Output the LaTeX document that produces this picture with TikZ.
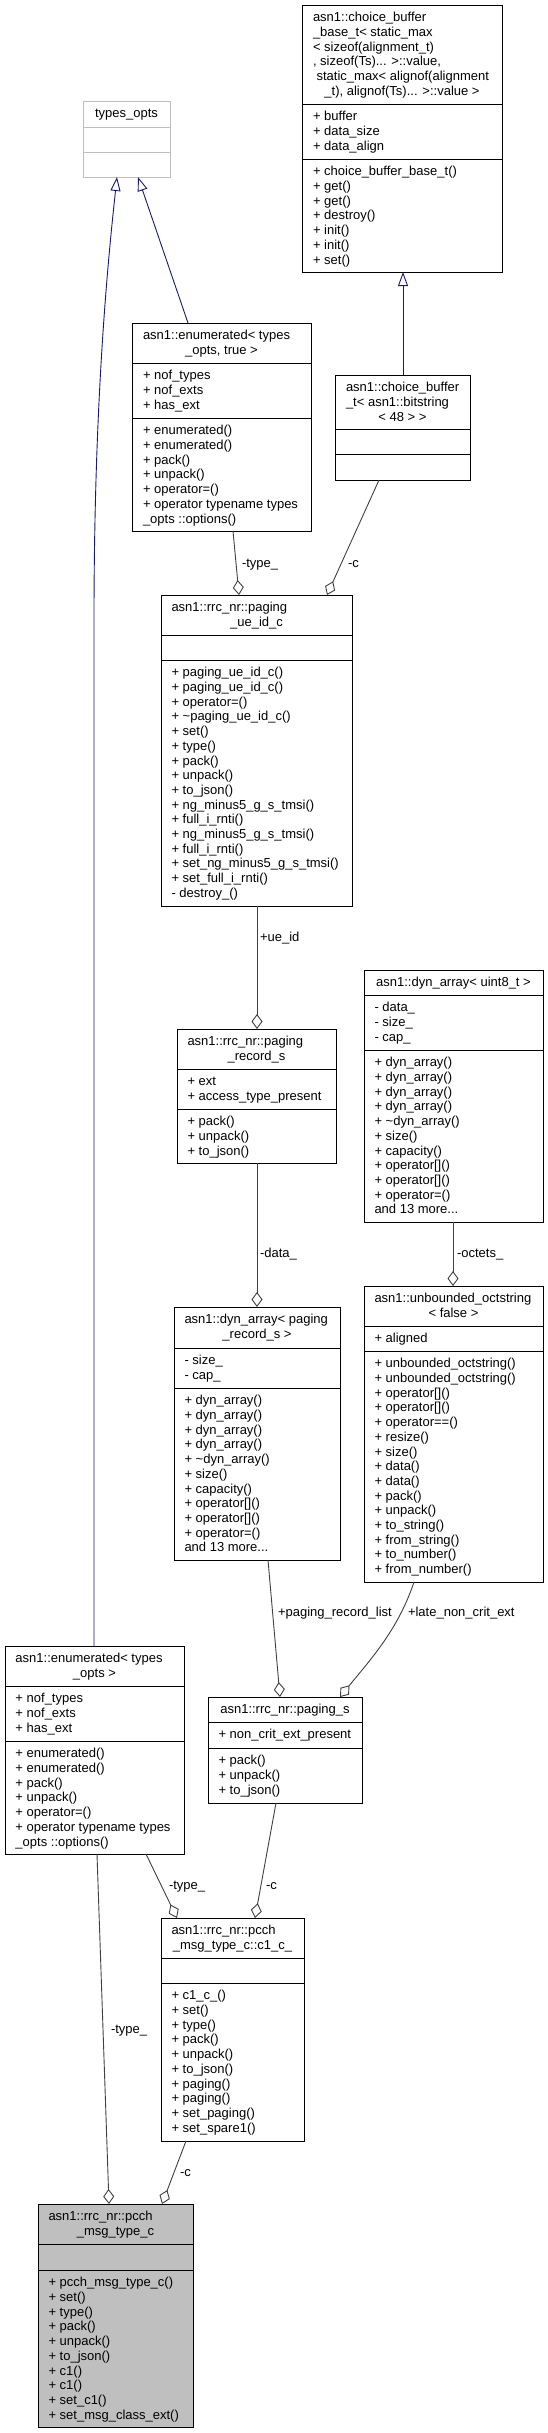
\documentclass[tikz,border=0pt]{standalone}
\usepackage{fontspec}
\setmainfont{Liberation Sans}
\usetikzlibrary{arrows.meta}
\definecolor{grey75}{HTML}{BFBFBF}
\definecolor{edgegray}{HTML}{404040}
\definecolor{inhblue}{HTML}{191970}
\newcommand\lbl{\fontsize{13pt}{14.7pt}\selectfont}
\newcommand\ttab[1]{\begin{tabular}[t]{@{}l@{}}#1\end{tabular}}
% #1 style, #2 name, #3 x, #4 y, #5 width, #6 height, #7 sep1, #8 sep2, #9 sep colour
\newcommand\classbox[9]{%
  \node[#1, minimum width=#5pt, minimum height=#6pt] (#2) at (#3,#4) {};
  \draw[draw=#9, line width=1pt] (#2.west |- 0,#7) -- (#2.east |- 0,#7);
  \draw[draw=#9, line width=1pt] (#2.west |- 0,#8) -- (#2.east |- 0,#8);
}
\tikzset{
  cls/.style={draw=black, line width=1pt, fill=white, inner sep=0pt, outer sep=0pt, anchor=north west},
  undoc/.style={cls, draw=grey75},
  rootcls/.style={cls, fill=grey75},
  txt/.style={inner sep=0pt, outer sep=0pt, anchor=base west, font=\lbl},
  ctxt/.style={inner sep=0pt, outer sep=0pt, anchor=base, font=\lbl},
  elab/.style={inner sep=0pt, outer sep=0pt, anchor=base west, font=\lbl},
  agg/.style={draw=edgegray, line width=0.9pt, -{Diamond[fill=white, length=15pt, width=11pt]}},
  inh/.style={draw=inhblue, line width=0.9pt, -{Triangle[fill=white, length=14pt, width=10pt]}},
}
\begin{document}
\begin{tikzpicture}[x=1pt, y=-1pt]
\useasboundingbox (0,0) rectangle (547,2433);

% ---------- boxes ----------
\classbox{undoc}{types}{83}{101}{87}{76}{127}{152}{grey75}
\node[ctxt] (typesH) at (126.5,117.8) {types\_opts};

\classbox{cls}{cbb}{302}{5}{200}{267}{104}{159}{black}
\node[txt] (cbbH) at (313,21.8) {\ttab{asn1::choice\_buffer\\ \_base\_t< static\_max\\ < sizeof(alignment\_t)\\ , sizeof(Ts)... >::value,\\ \hspace{3.6pt}static\_max< alignof(alignment}};
\node[ctxt] (cbbH2) at (402,95.3) {\_t), alignof(Ts)... >::value >};
\node[txt] (cbbA) at (313,120.8) {\ttab{+ buffer\\ + data\_size\\ + data\_align}};
\node[txt] (cbbM) at (313,175.8) {\ttab{+ choice\_buffer\_base\_t()\\ + get()\\ + get()\\ + destroy()\\ + init()\\ + init()\\ + set()}};

\classbox{cls}{enumT}{132}{323}{179}{208}{363}{418}{black}
\node[txt] (enumTH) at (143,339.8) {asn1::enumerated< types};
\node[ctxt] (enumTH2) at (221.5,354.5) {\_opts, true >};
\node[txt] (enumTA) at (143,379.8) {\ttab{+ nof\_types\\ + nof\_exts\\ + has\_ext}};
\node[txt] (enumTM) at (143,434.8) {\ttab{+ enumerated()\\ + enumerated()\\ + pack()\\ + unpack()\\ + operator=()\\ + operator typename types\\ \_opts ::options()}};

\classbox{cls}{cbt}{335}{375}{135}{105}{429}{454}{black}
\node[txt] (cbtH) at (346,391.8) {\ttab{asn1::choice\_buffer\\ \_t< asn1::bitstring}};
\node[ctxt] (cbtH2) at (402.5,421.2) {< 48 > >};

\classbox{cls}{pueid}{161}{595}{191}{311}{635}{660}{black}
\node[txt] (pueidH) at (171.5,611.8) {asn1::rrc\_nr::paging};
\node[ctxt] (pueidH2) at (256.5,626.5) {\_ue\_id\_c};
\node[txt] (pueidM) at (171.5,676.8) {\ttab{+ paging\_ue\_id\_c()\\ + paging\_ue\_id\_c()\\ + operator=()\\ + \textasciitilde paging\_ue\_id\_c()\\ + set()\\ + type()\\ + pack()\\ + unpack()\\ + to\_json()\\ + ng\_minus5\_g\_s\_tmsi()\\ + full\_i\_rnti()\\ + ng\_minus5\_g\_s\_tmsi()\\ + full\_i\_rnti()\\ + set\_ng\_minus5\_g\_s\_tmsi()\\ + set\_full\_i\_rnti()\\ - destroy\_()}};

\classbox{cls}{prs}{177}{1029}{159}{134}{1069}{1109}{black}
\node[txt] (prsH) at (187.5,1045.8) {asn1::rrc\_nr::paging};
\node[ctxt] (prsH2) at (256.5,1060.5) {\_record\_s};
\node[txt] (prsA) at (187.5,1085.8) {\ttab{+ ext\\ + access\_type\_present}};
\node[txt] (prsM) at (187.5,1125.8) {\ttab{+ pack()\\ + unpack()\\ + to\_json()}};

\classbox{cls}{dynu}{364}{970}{179}{252}{995}{1050}{black}
\node[ctxt] (dynuH) at (453.5,986.8) {asn1::dyn\_array< uint8\_t >};
\node[txt] (dynuA) at (374.5,1011.8) {\ttab{- data\_\\ - size\_\\ - cap\_}};
\node[txt] (dynuM) at (374.5,1066.8) {\ttab{+ dyn\_array()\\ + dyn\_array()\\ + dyn\_array()\\ + dyn\_array()\\ + \textasciitilde dyn\_array()\\ + size()\\ + capacity()\\ + operator[]()\\ + operator[]()\\ + operator=()\\ and 13 more...}};

\classbox{cls}{uoct}{364}{1286}{179}{296}{1326}{1351}{black}
\node[txt] (uoctH) at (374.5,1302.8) {asn1::unbounded\_octstring};
\node[ctxt] (uoctH2) at (453.5,1317.5) {< false >};
\node[txt] (uoctA) at (374.5,1342.8) {+ aligned};
\node[txt] (uoctM) at (374.5,1367.8) {\ttab{+ unbounded\_octstring()\\ + unbounded\_octstring()\\ + operator[]()\\ + operator[]()\\ + operator==()\\ + resize()\\ + size()\\ + data()\\ + data()\\ + pack()\\ + unpack()\\ + to\_string()\\ + from\_string()\\ + to\_number()\\ + from\_number()}};

\classbox{cls}{dynp}{174}{1307}{166}{253}{1348}{1388}{black}
\node[txt] (dynpH) at (184.5,1323.8) {asn1::dyn\_array< paging};
\node[ctxt] (dynpH2) at (257,1338.5) {\_record\_s >};
\node[txt] (dynpA) at (184.5,1364.8) {\ttab{- size\_\\ - cap\_}};
\node[txt] (dynpM) at (184.5,1404.8) {\ttab{+ dyn\_array()\\ + dyn\_array()\\ + dyn\_array()\\ + dyn\_array()\\ + \textasciitilde dyn\_array()\\ + size()\\ + capacity()\\ + operator[]()\\ + operator[]()\\ + operator=()\\ and 13 more...}};

\classbox{cls}{enumO}{5}{1646}{179}{208}{1686}{1741}{black}
\node[txt] (enumOH) at (15.5,1662.8) {asn1::enumerated< types};
\node[ctxt] (enumOH2) at (94.5,1677.5) {\_opts >};
\node[txt] (enumOA) at (15.5,1702.8) {\ttab{+ nof\_types\\ + nof\_exts\\ + has\_ext}};
\node[txt] (enumOM) at (15.5,1757.8) {\ttab{+ enumerated()\\ + enumerated()\\ + pack()\\ + unpack()\\ + operator=()\\ + operator typename types\\ \_opts ::options()}};

\classbox{cls}{pagings}{208}{1697}{154}{106}{1722}{1748}{black}
\node[ctxt] (pagingsH) at (285,1713.8) {asn1::rrc\_nr::paging\_s};
\node[txt] (pagingsA) at (218.5,1738.8) {+ non\_crit\_ext\_present};
\node[txt] (pagingsM) at (218.5,1764.8) {\ttab{+ pack()\\ + unpack()\\ + to\_json()}};

\classbox{cls}{c1}{161}{1918}{143}{223}{1958}{1983}{black}
\node[txt] (c1H) at (171.5,1934.8) {asn1::rrc\_nr::pcch};
\node[ctxt] (c1H2) at (232.5,1949.5) {\_msg\_type\_c::c1\_c\_};
\node[txt] (c1M) at (171.5,1999.8) {\ttab{+ c1\_c\_()\\ + set()\\ + type()\\ + pack()\\ + unpack()\\ + to\_json()\\ + paging()\\ + paging()\\ + set\_paging()\\ + set\_spare1()}};

\classbox{rootcls}{pcch}{38}{2204}{155}{223}{2244}{2270}{black}
\node[txt] (pcchH) at (48.5,2220.8) {asn1::rrc\_nr::pcch};
\node[ctxt] (pcchH2) at (115.5,2235.5) {\_msg\_type\_c};
\node[txt] (pcchM) at (48.5,2286.8) {\ttab{+ pcch\_msg\_type\_c()\\ + set()\\ + type()\\ + pack()\\ + unpack()\\ + to\_json()\\ + c1()\\ + c1()\\ + set\_c1()\\ + set\_msg\_class\_ext()}};

% ---------- inheritance ----------
\draw[inh] (cbt.north -| 403,0) -- (cbb.south -| 403,0);
\draw[inh] (enumT.north -| 188,0) -- (types.south -| 138,0);
\draw[inh] (enumO.north -| 94,0) -- (94,620) .. controls (94,400) and (108,260) .. (types.south -| 117,0);

% ---------- aggregation ----------
\draw[agg] (enumT.south -| 233,0) -- (pueid.north -| 239,0);
\node[elab] (l1) at (242,567.5) {-type\_};
\draw[agg] (cbt.south -| 379,0) -- (pueid.north -| 327,0);
\node[elab] (l2) at (348,567.5) {-c};
\draw[agg] (pueid.south -| 257,0) -- (prs.north -| 257,0);
\node[elab] (l3) at (260,941.5) {+ue\_id};
\draw[agg] (prs.south -| 257,0) -- (dynp.north -| 257,0);
\node[elab] (l4) at (260,1257.5) {-data\_};
\draw[agg] (dynu.south -| 453,0) -- (uoct.north -| 453,0);
\node[elab] (l5) at (457,1257.5) {-octets\_};
\draw[agg] (dynp.south -| 268,0) -- (pagings.north -| 280,0);
\node[elab] (l6) at (278,1616.5) {+paging\_record\_list};
\draw[agg] (uoct.south -| 414,0) .. controls (398,1630) and (370,1660) .. (pagings.north -| 340,0);
\node[elab] (l7) at (408,1616.5) {+late\_non\_crit\_ext};
\draw[agg] (enumO.south -| 146,0) -- (c1.north -| 177,0);
\node[elab] (l8) at (169,1889.5) {-type\_};
\draw[agg] (pagings.south -| 276,0) -- (c1.north -| 255,0);
\node[elab] (l9) at (266,1889.5) {-c};
\draw[agg] (enumO.south -| 97,0) -- (pcch.north -| 109,0);
\node[elab] (l10) at (111,2033.5) {-type\_};
\draw[agg] (c1.south -| 186,0) -- (pcch.north -| 162,0);
\node[elab] (l11) at (180,2176.5) {-c};
\end{tikzpicture}
\end{document}
